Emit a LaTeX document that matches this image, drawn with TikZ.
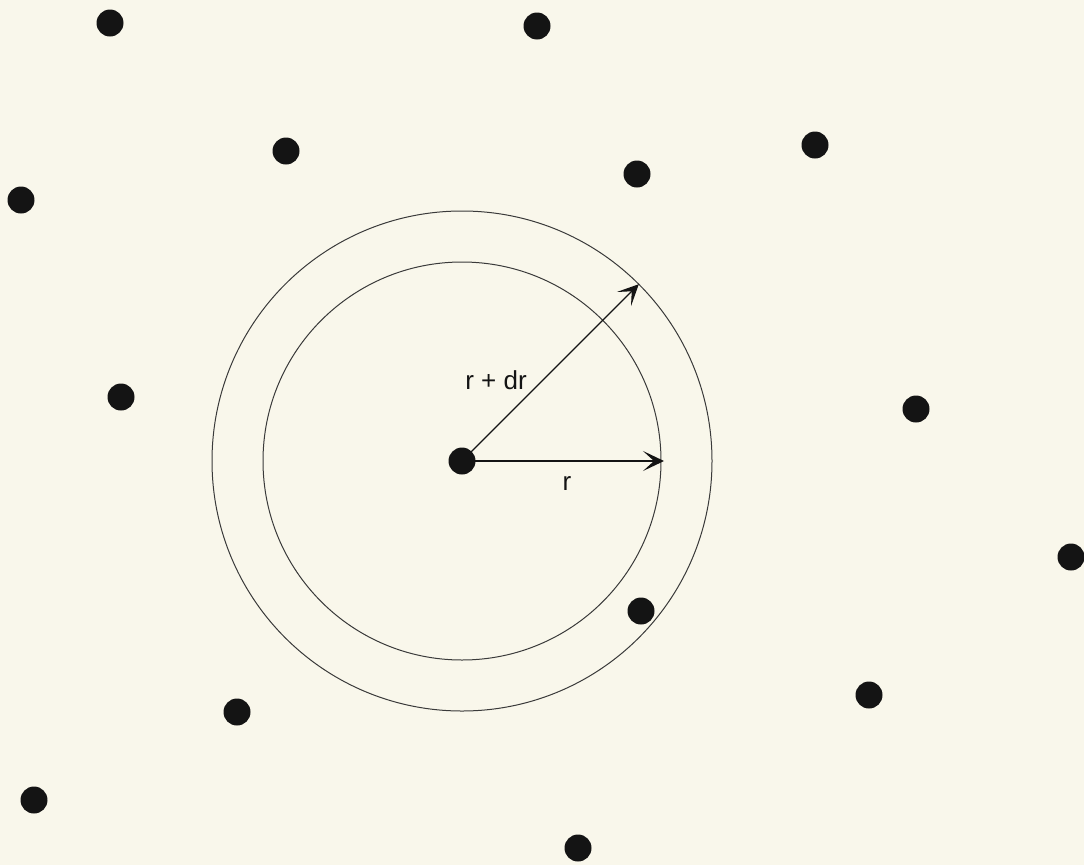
\documentclass[tikz,border=0pt]{standalone}
\usepackage{fontspec}
\setmainfont{Liberation Sans}
\usetikzlibrary{arrows.meta}
\definecolor{paper}{HTML}{F9F7EB}
\definecolor{ink}{HTML}{141414}
\definecolor{linec}{HTML}{3A3A3A}
\begin{document}
\begin{tikzpicture}[x=1pt,y=-1pt,
  dot/.style={circle,fill=ink,minimum size=27pt,inner sep=0pt},
  ring/.style={draw=linec,line width=1pt},
  radius arrow/.style={draw=ink,line width=1.2pt,-{Stealth[length=21pt,width=20pt,inset=11pt]}},
  lbl/.style={font=\fontsize{26}{30}\selectfont,text=ink,inner sep=0pt}]
\fill[paper] (0,0) rectangle (1084,865);
\useasboundingbox (0,0) rectangle (1084,865);
\coordinate (o) at (462,461);
\draw[ring] (o) circle[radius=199];
\draw[ring] (o) circle[radius=250];
\node[dot] (c) at (o) {};
\coordinate (tipr) at (664,461);
\path (o) ++(176.8,-176.8) coordinate (tipdr);
\draw[radius arrow] (c.center) -- (tipr);
\draw[radius arrow] (c.center) -- (tipdr);
\node[lbl] (ldr) at (496,380) {r + dr};
\node[lbl] (lr) at (567,483) {r};
\node[dot] (d1) at (110,23) {};
\node[dot] (d2) at (537,26) {};
\node[dot] (d3) at (286,151) {};
\node[dot] (d4) at (815,145) {};
\node[dot] (d5) at (637,174) {};
\node[dot] (d6) at (21,200) {};
\node[dot] (d7) at (121,397) {};
\node[dot] (d8) at (916,409) {};
\node[dot] (d9) at (1071,557) {};
\node[dot] (d10) at (641,611) {};
\node[dot] (d11) at (869,695) {};
\node[dot] (d12) at (237,712) {};
\node[dot] (d13) at (34,800) {};
\node[dot] (d14) at (578,848) {};
\end{tikzpicture}
\end{document}
